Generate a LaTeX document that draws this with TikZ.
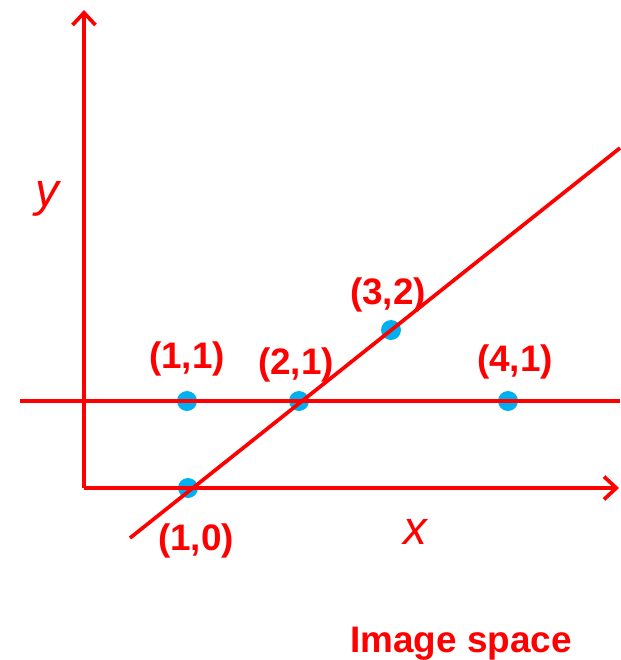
\documentclass[tikz,border=0pt]{standalone}
\usepackage{fontspec}
\setmainfont{Liberation Sans}
\usetikzlibrary{arrows.meta, positioning, calc}
\definecolor{linered}{RGB}{255,0,0}
\definecolor{dotblue}{RGB}{0,176,240}

\begin{document}
\begin{tikzpicture}[
			x = 0.02cm, y = -0.02cm,
			> = {Straight Barb[length=7pt, width=13pt, line width=2.1pt]},
			axis/.style = {draw=linered, line width=2.1pt, ->},
			line/.style = {draw=linered, line width=2.1pt},
			dot/.style = {circle, fill=dotblue, inner sep=0pt, minimum size=0.4cm},
			coord/.style = {text=linered, font=\bfseries\fontsize{21}{24}\selectfont},
			axlabel/.style = {text=linered, font=\itshape\fontsize{27}{30}\selectfont}
			]
			
			\useasboundingbox (0,0) rectangle (620,660);
			
			% Define points
			\node[dot] (p10) at (188,488) {};
			\node[dot] (p11) at (187,401) {};
			\node[dot] (p21) at (299,401) {};
			\node[dot] (p32) at (391,330) {};
			\node[dot] (p41) at (508,401) {};
			
			% Define axes
			\coordinate (origin) at (84,488);
			\coordinate (ytip) at (84,10);
			\coordinate (xtip) at (619,488);
			\draw[axis] (origin) -- (ytip);
			\draw[axis] (origin) -- (xtip);
			\node[axlabel] (ylab) at (47,199) {y};
			\node[axlabel] (xlab) at (415,532) {x};
			
			% Define lines
			\coordinate (hstart) at (20,401);
			\coordinate (hend) at (620,401);
			\coordinate (dstart) at (130,538);
			\coordinate (dend) at (620,148);
			\draw[line] (hstart) -- (hend);
			\draw[line] (dstart) -- (dend);
			
			% Define labels
			\node[coord] (l10) at (196,541) {(1,0)};
			\node[coord] (l11) at (187,359) {(1,1)};
			\node[coord] (l21) at (296,365) {(2,1)};
			\node[coord] (l32) at (388,295) {(3,2)};
			\node[coord] (l41) at (515,362) {(4,1)};
			\node[coord, anchor=base] (title) at (461,652) {Image space};
			
		\end{tikzpicture}
\end{document}
